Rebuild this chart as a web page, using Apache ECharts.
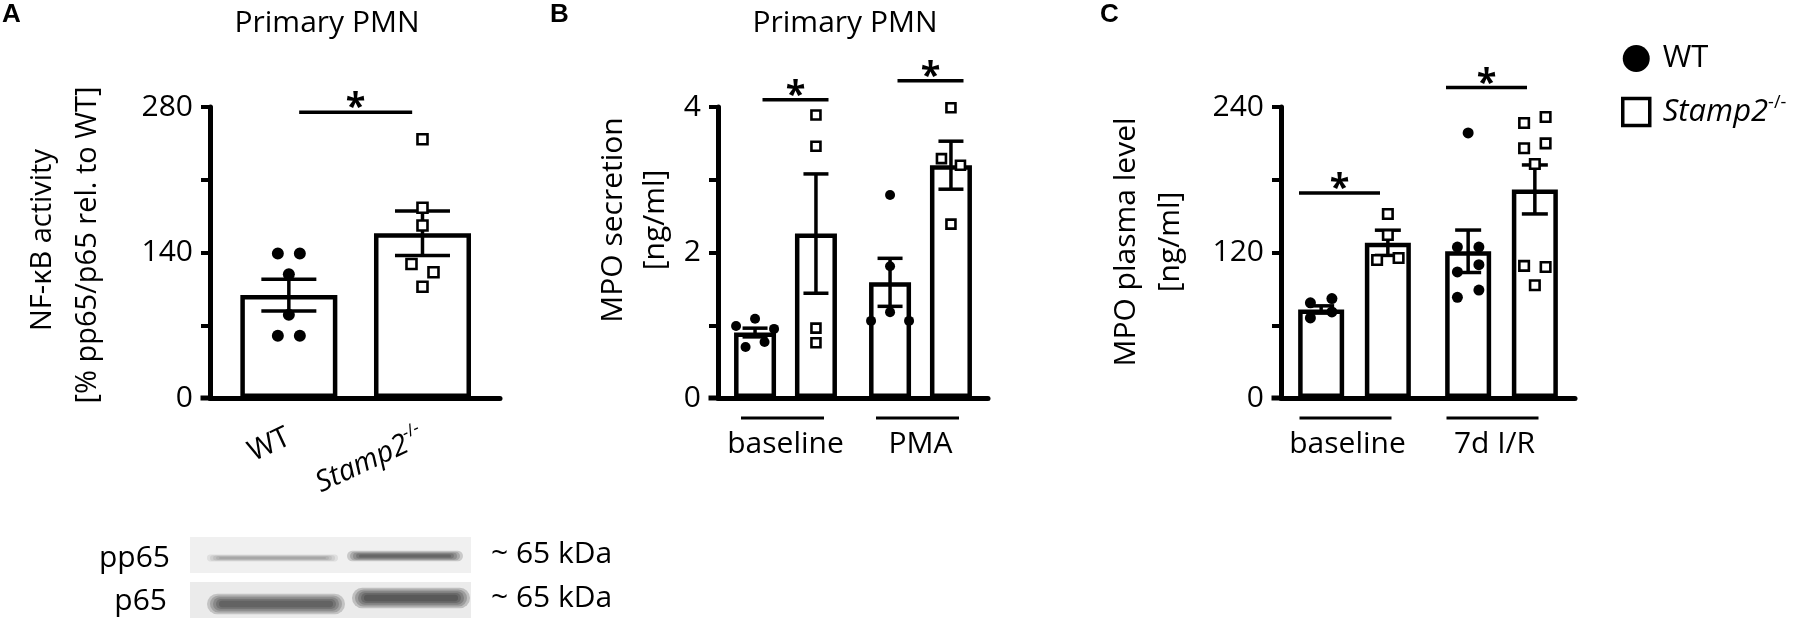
<!DOCTYPE html>
<html><head><meta charset="utf-8">
<script src="https://cdn.jsdelivr.net/npm/echarts@6/dist/echarts.min.js"></script>
<style>html,body{margin:0;padding:0;background:#fff}#c{width:1797px;height:624px}</style>
</head><body><div id="c"></div>
<script>
// ---------------- DATA ----------------
const catsA = ['WT', 'Stamp2'];
const groupsB = ['baseline', 'PMA'];
const groupsC = ['baseline', '7d I/R'];

// Panel A: NF-kB activity
const meanA = [99, 158.5];
const semA = [15.3, 21.4];
const ptsA_WT = [139, 139, 119, 80, 60, 60];
const ptsA_KO = [249, 183, 166, 129, 121, 107];

// Panel B: MPO secretion [ng/ml]
const meanB_WT = [0.9, 1.59];
const semB_WT = [0.06, 0.33];
const meanB_KO = [2.26, 3.2];
const semB_KO = [0.82, 0.33];
const ptsB_WT = [[0.99, 1.09, 0.95, 0.70, 0.77], [2.79, 1.81, 1.06, 1.18, 1.06]];
const ptsB_KO = [[3.89, 3.46, 0.96, 0.76], [3.99, 3.29, 3.20, 2.39]];

// Panel C: MPO plasma level [ng/ml]
const meanC_WT = [73, 121];
const semC_WT = [3, 17.5];
const meanC_KO = [128, 172];
const semC_KO = [10.4, 20.2];
const ptsC_WT = [[78.5, 82, 66, 71], [218.6, 124.5, 124.5, 104, 110, 83, 89]];
const ptsC_KO = [[151.7, 134.4, 113.8, 115.5], [226.8, 231.7, 206, 210, 193, 109, 108, 93]];

// significance bracket heights (data units)
const sigA = [275];
const sigB = [4.1, 4.36];
const sigC = [169, 256];

// y-axis ticks
const yMaxA = 280, yStepA = 70, yLabelsA = [0, 140, 280];
const yMaxB = 4, yStepB = 1, yLabelsB = [0, 2, 4];
const yMaxC = 240, yStepC = 60, yLabelsC = [0, 120, 240];

// ---------------- STYLE / LAYOUT ----------------
const FONT = "'Open Sans', sans-serif";
const GRIDS = [
  {left: 210, top: 107, width: 290, height: 291},
  {left: 718, top: 107, width: 270, height: 291},
  {left: 1281, top: 107, width: 294, height: 291}
];
const P = [
  {bw: 97, gap: 0, cap: 27.5, r: 6, sq: 10, tol: 11, sp: 22, sigHalf: 56.5, sigShift: 0, ulHalf: 0, ulShift: 0},
  {bw: 42, gap: 0.45, cap: 12.5, r: 5, sq: 9, tol: 11, sp: 19, sigHalf: 33, sigShift: 10, ulHalf: 41.5, ulShift: -3},
  {bw: 46, gap: 0.45, cap: 13, r: 5.5, sq: 9.5, tol: 8, sp: 21.5, sigHalf: 40.5, sigShift: -15, ulHalf: 46, ulShift: -9}
];
P.forEach(p => { p.off = p.bw * (1 + p.gap) / 2; });

const barStyle = {color: '#fff', borderColor: '#000', borderWidth: 4.5};

function swarm(ys, idx, tol, sp) {
  const order = ys.map((y, i) => i).sort((a, b) => ys[a] - ys[b]);
  const rows = []; let cur = [order[0]];
  for (let k = 1; k < order.length; k++) {
    if (ys[order[k]] - ys[order[k - 1]] <= tol) cur.push(order[k]);
    else { rows.push(cur); cur = [order[k]]; }
  }
  rows.push(cur);
  const row = rows.find(r => r.includes(idx)).slice().sort((a, b) => a - b);
  return (row.indexOf(idx) - (row.length - 1) / 2) * sp;
}

function ln(x1, y1, x2, y2, w) {
  return {type: 'line', shape: {x1, y1, x2, y2}, style: {stroke: '#000', lineWidth: w || 3.5}};
}

function errSeries(gi, data, shift, p) {
  return {
    type: 'custom', xAxisIndex: gi, yAxisIndex: gi, z: 3, silent: true,
    encode: {x: 0, y: 1}, data,
    renderItem: (params, api) => {
      const x = api.value(0), m = api.value(1), s = api.value(2);
      const a = api.coord([x, m + s]), b = api.coord([x, m - s]);
      const cx = a[0] + shift;
      return {type: 'group', children: [
        ln(cx, a[1], cx, b[1]), ln(cx - p.cap, a[1], cx + p.cap, a[1]), ln(cx - p.cap, b[1], cx + p.cap, b[1])
      ]};
    }
  };
}

function ptsSeries(name, gi, data, shift, p, filled) {
  return {
    name, type: 'custom', xAxisIndex: gi, yAxisIndex: gi, z: 4, silent: true,
    encode: {x: 0, y: 1}, data,
    renderItem: (params, api) => {
      const it = data[params.dataIndex];
      const idxs = [];
      data.forEach((d, i) => { if (d[0] === it[0]) idxs.push(i); });
      const ys = idxs.map(i => api.coord([data[i][0], data[i][1]])[1]);
      const dx = swarm(ys, idxs.indexOf(params.dataIndex), p.tol, p.sp);
      const c = api.coord([it[0], it[1]]);
      const cx = c[0] + shift + dx, cy = c[1];
      if (filled) return {type: 'circle', shape: {cx, cy, r: p.r}, style: {fill: '#000'}};
      return {type: 'rect', shape: {x: cx - p.sq / 2, y: cy - p.sq / 2, width: p.sq, height: p.sq},
        style: {fill: '#fff', stroke: '#000', lineWidth: 2.6}};
    }
  };
}

function sigSeries(gi, data, p) {
  return {
    type: 'custom', xAxisIndex: gi, yAxisIndex: gi, z: 4, silent: true,
    encode: {x: 0, y: 1}, data,
    renderItem: (params, api) => {
      const c = api.coord([api.value(0), api.value(1)]);
      const cx = c[0] + p.sigShift;
      return {type: 'group', children: [
        ln(cx - p.sigHalf, c[1], cx + p.sigHalf, c[1], 3.5),
        {type: 'text', style: {text: '*', x: cx, y: c[1] - 4, align: 'center', verticalAlign: 'middle',
          fontSize: 36, fontWeight: 'bold', fontFamily: FONT, fill: '#000'}}
      ]};
    }
  };
}

function ulSeries(gi, n, p) {
  const data = Array.from({length: n}, (_, i) => [i, 0]);
  return {
    type: 'custom', xAxisIndex: gi, yAxisIndex: gi, z: 4, silent: true,
    encode: {x: 0, y: 1}, data,
    renderItem: (params, api) => {
      const c = api.coord([api.value(0), 0]);
      const x = c[0] + p.ulShift;
      return ln(x - p.ulHalf, c[1] + 20, x + p.ulHalf, c[1] + 20, 3);
    }
  };
}

function yAxis(gi, max, step, labels) {
  return {
    type: 'value', gridIndex: gi, min: 0, max, interval: step,
    axisLine: {show: true, lineStyle: {color: '#000', width: 5}},
    axisTick: {show: true, length: 9, lineStyle: {color: '#000', width: 4}},
    splitLine: {show: false},
    axisLabel: {margin: 17, fontSize: 30, fontFamily: FONT, color: '#000', padding: [14, 0, 0, 0],
      formatter: v => labels.includes(v) ? String(v) : ''}
  };
}

const supRich = {
  n: {fontSize: 29, fontFamily: FONT, color: '#000', lineHeight: 36},
  i: {fontSize: 29, fontFamily: FONT, fontStyle: 'italic', color: '#000', lineHeight: 36},
  s: {fontSize: 17, fontFamily: FONT, color: '#000', lineHeight: 36, verticalAlign: 'top', padding: [0, 0, 14, 0]}
};

const flat = arrs => arrs.flatMap((a, g) => a.map(v => [g, v]));

const series = [
  // Panel A
  {name: 'barsA', type: 'bar', xAxisIndex: 0, yAxisIndex: 0, barWidth: P[0].bw, itemStyle: barStyle, z: 2, silent: true,
    data: meanA.map((m, i) => [i + 1, m])},
  errSeries(0, meanA.map((m, i) => [i + 1, m, semA[i]]), 0, P[0]),
  ptsSeries('WT', 0, ptsA_WT.map(v => [1, v]), 0, P[0], true),
  ptsSeries('Stamp2', 0, ptsA_KO.map(v => [2, v]), 0, P[0], false),
  sigSeries(0, sigA.map(v => [1.5, v]), P[0]),
  // Panel B
  {name: 'barsB_WT', type: 'bar', xAxisIndex: 1, yAxisIndex: 1, barWidth: P[1].bw, barGap: '45%', itemStyle: barStyle, z: 2, silent: true, data: meanB_WT},
  {name: 'barsB_KO', type: 'bar', xAxisIndex: 1, yAxisIndex: 1, barWidth: P[1].bw, barGap: '45%', itemStyle: barStyle, z: 2, silent: true, data: meanB_KO},
  errSeries(1, meanB_WT.map((m, i) => [i, m, semB_WT[i]]), -P[1].off, P[1]),
  errSeries(1, meanB_KO.map((m, i) => [i, m, semB_KO[i]]), P[1].off, P[1]),
  ptsSeries('WT', 1, flat(ptsB_WT), -P[1].off, P[1], true),
  ptsSeries('Stamp2', 1, flat(ptsB_KO), P[1].off, P[1], false),
  sigSeries(1, sigB.map((v, i) => [i, v]), P[1]),
  ulSeries(1, groupsB.length, P[1]),
  // Panel C
  {name: 'barsC_WT', type: 'bar', xAxisIndex: 2, yAxisIndex: 2, barWidth: P[2].bw, barGap: '45%', itemStyle: barStyle, z: 2, silent: true, data: meanC_WT},
  {name: 'barsC_KO', type: 'bar', xAxisIndex: 2, yAxisIndex: 2, barWidth: P[2].bw, barGap: '45%', itemStyle: barStyle, z: 2, silent: true, data: meanC_KO},
  errSeries(2, meanC_WT.map((m, i) => [i, m, semC_WT[i]]), -P[2].off, P[2]),
  errSeries(2, meanC_KO.map((m, i) => [i, m, semC_KO[i]]), P[2].off, P[2]),
  ptsSeries('WT', 2, flat(ptsC_WT), -P[2].off, P[2], true),
  ptsSeries('Stamp2', 2, flat(ptsC_KO), P[2].off, P[2], false),
  sigSeries(2, sigC.map((v, i) => [i, v]), P[2]),
  ulSeries(2, groupsC.length, P[2])
];

function txt(text, x, y, opt) {
  return Object.assign({type: 'text', x, y, silent: true,
    style: Object.assign({text, align: 'center', verticalAlign: 'middle', fontSize: 29, fontFamily: FONT, fill: '#000'}, opt || {})});
}
function vtxt(text, x, y, size) {
  const t = txt(text, x, y, {fontSize: size});
  t.rotation = Math.PI / 2;
  return t;
}
// soft blot band built from layered translucent rounded rects
function band(x1, x2, yc, h, a) {
  const out = [];
  const layers = 5;
  for (let k = layers - 1; k >= 0; k--) {
    const hh = h * (0.35 + 0.2 * k), ww = (x2 - x1) + 6 * k;
    out.push({type: 'rect', silent: true,
      shape: {x: (x1 + x2) / 2 - ww / 2, y: yc - hh / 2, width: ww, height: hh, r: hh / 2},
      style: {fill: 'rgba(25,25,25,' + (a / layers * 1.1).toFixed(3) + ')'}});
  }
  return out;
}

const graphic = [
  txt('A', 2, 15, {align: 'left', fontSize: 26, fontWeight: 'bold', fontFamily: "'Liberation Sans', Arial, sans-serif"}),
  txt('B', 550, 15, {align: 'left', fontSize: 26, fontWeight: 'bold', fontFamily: "'Liberation Sans', Arial, sans-serif"}),
  txt('C', 1100, 15, {align: 'left', fontSize: 26, fontWeight: 'bold', fontFamily: "'Liberation Sans', Arial, sans-serif"}),
  txt('Primary PMN', 327, 23, {fontSize: 30}),
  txt('Primary PMN', 845, 23, {fontSize: 30}),
  vtxt('NF-κB activity', 43, 240, 29),
  vtxt('[% pp65/p65 rel. to WT]', 88, 245, 29),
  vtxt('MPO secretion', 613, 220, 30),
  vtxt('[ng/ml]', 655, 220, 30),
  vtxt('MPO plasma level', 1126, 242, 30),
  vtxt('[ng/ml]', 1170, 242, 30)
];
// x-axis overhang to the left of the y axis (Prism style)
GRIDS.forEach(g => {
  const y = g.top + g.height;
  graphic.push({type: 'line', silent: true, shape: {x1: g.left - 9.5, y1: y, x2: g.left, y2: y}, style: {stroke: '#000', lineWidth: 5}});
});
// western blot inset
graphic.push(
  {type: 'rect', silent: true, shape: {x: 190, y: 537, width: 281, height: 36}, style: {fill: '#f0f0f0'}},
  {type: 'rect', silent: true, shape: {x: 190, y: 582, width: 281, height: 36}, style: {fill: '#ebebeb'}},
  ...band(219, 326, 558, 6, 0.35),
  ...band(359, 451, 556, 9, 0.8),
  ...band(219, 333, 604, 18, 0.85),
  ...band(364, 458, 598, 18, 0.95),
  txt('pp65', 170, 558, {align: 'right', fontSize: 30}),
  txt('p65', 167, 601, {align: 'right', fontSize: 30}),
  txt('~ 65 kDa', 491, 554, {align: 'left', fontSize: 30}),
  txt('~ 65 kDa', 491, 598, {align: 'left', fontSize: 30})
);

const option = {
  animation: false,
  backgroundColor: '#fff',
  textStyle: {fontFamily: FONT, color: '#000'},
  grid: GRIDS.map(g => Object.assign({containLabel: false, outerBoundsMode: 'none'}, g)),
  xAxis: [
    {type: 'value', gridIndex: 0, min: 0.41, max: 2.58, splitLine: {show: false},
      axisLine: {show: true, lineStyle: {color: '#000', width: 5}}, axisTick: {show: false},
      axisLabel: {customValues: [1, 2], rotate: 25, margin: 38, fontSize: 29, color: '#000', fontFamily: FONT,
        formatter: v => v === 1 ? '{n|' + catsA[0] + '}' : '{i|' + catsA[1] + '}{s|-/-}', rich: supRich}},
    {type: 'category', gridIndex: 1, data: groupsB, axisLine: {lineStyle: {color: '#000', width: 5}}, axisTick: {show: false},
      axisLabel: {interval: 0, hideOverlap: false, margin: 31, fontSize: 30, color: '#000', fontFamily: FONT}},
    {type: 'category', gridIndex: 2, data: groupsC, axisLine: {lineStyle: {color: '#000', width: 5}}, axisTick: {show: false},
      axisLabel: {interval: 0, hideOverlap: false, margin: 31, fontSize: 30, color: '#000', fontFamily: FONT, padding: [0, 14, 0, 0]}}
  ],
  yAxis: [yAxis(0, yMaxA, yStepA, yLabelsA), yAxis(1, yMaxB, yStepB, yLabelsB), yAxis(2, yMaxC, yStepC, yLabelsC)],
  legend: {
    orient: 'vertical', left: 1616, top: 38, itemWidth: 27, itemHeight: 27, itemGap: 20, selectedMode: false,
    data: [
      {name: 'WT', icon: 'circle', itemStyle: {color: '#000', borderWidth: 0}},
      {name: 'Stamp2', icon: 'rect', itemStyle: {color: '#fff', borderColor: '#000', borderWidth: 3.5}}
    ],
    formatter: n => n === 'Stamp2' ? '{i|Stamp2}{s|-/-}' : '{n|WT}',
    textStyle: {fontSize: 31, fontFamily: FONT, color: '#000', padding: [0, 0, 0, 8],
      rich: {
        n: {fontSize: 31, fontFamily: FONT, color: '#000', lineHeight: 36},
        i: {fontSize: 31, fontFamily: FONT, fontStyle: 'italic', color: '#000', lineHeight: 36},
        s: {fontSize: 18, fontFamily: FONT, color: '#000', lineHeight: 36, verticalAlign: 'top', padding: [0, 0, 14, 0]}
      }}
  },
  graphic,
  series
};
const chart = echarts.init(document.getElementById('c'));
chart.setOption(option);
</script>
</body></html>
